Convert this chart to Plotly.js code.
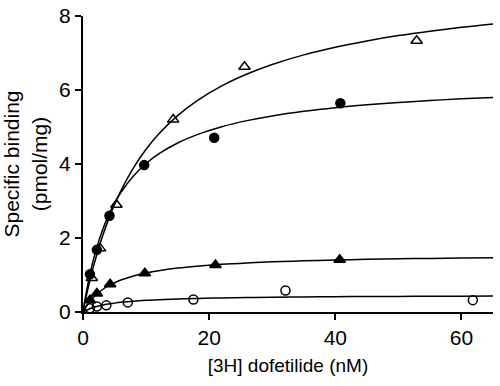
<!DOCTYPE html>
<html>
<head>
<meta charset="utf-8">
<script src="https://cdn.plot.ly/plotly-3.0.1.min.js"></script>
<style>html,body{margin:0;padding:0;background:#fff;}#chart{width:500px;height:386px;}</style>
</head>
<body>
<div id="chart"></div>
<script>
// Measured points
const openTriX = [1.4, 2.7, 5.3, 14.3, 25.6, 52.9];
const openTriY = [0.92, 1.72, 2.9, 5.2, 6.63, 7.33];
const fillCircX = [1.1, 2.2, 4.2, 9.7, 20.8, 40.8];
const fillCircY = [1.02, 1.68, 2.6, 3.97, 4.71, 5.64];
const fillTriX = [1.1, 2.2, 4.3, 9.8, 21, 40.7];
const fillTriY = [0.32, 0.5, 0.75, 1.05, 1.27, 1.41];
const openCircX = [1.1, 2.2, 3.7, 7.1, 17.5, 32.1, 61.8];
const openCircY = [0.1, 0.15, 0.18, 0.26, 0.34, 0.58, 0.32];

// Fitted curves
const curveX = [0, 0.5, 1, 1.5, 2, 3, 4, 5, 6, 8, 10, 12, 15, 18, 22, 26, 30, 35, 40, 45, 50, 55, 60, 65];
const openTriCurve = [0, 0.408, 0.781, 1.124, 1.439, 1.999, 2.483, 2.904, 3.275, 3.897, 4.397, 4.810, 5.307, 5.700, 6.111, 6.432, 6.690, 6.949, 7.157, 7.327, 7.470, 7.590, 7.693, 7.783];
const fillCircCurve = [0, 0.507, 0.939, 1.311, 1.635, 2.171, 2.597, 2.943, 3.230, 3.679, 4.014, 4.273, 4.568, 4.788, 5.008, 5.172, 5.300, 5.424, 5.521, 5.598, 5.662, 5.716, 5.761, 5.800];
const fillTriCurve = [0, 0.144, 0.265, 0.366, 0.453, 0.595, 0.705, 0.792, 0.864, 0.975, 1.055, 1.117, 1.187, 1.238, 1.289, 1.326, 1.355, 1.384, 1.405, 1.423, 1.437, 1.449, 1.459, 1.468];
const openCircCurve = [0, 0.045, 0.083, 0.114, 0.140, 0.182, 0.215, 0.240, 0.261, 0.293, 0.316, 0.333, 0.353, 0.367, 0.381, 0.391, 0.399, 0.407, 0.413, 0.418, 0.421, 0.425, 0.427, 0.430];

const xTicks = [0, 20, 40, 60];
const yTicks = [0, 2, 4, 6, 8];

const lineStyle = {color: '#000', width: 1.5, shape: 'spline'};
function curve(y) {
  return {x: curveX, y: y, mode: 'lines', line: lineStyle, hoverinfo: 'skip', cliponaxis: false};
}
function pts(x, y, sym, size) {
  return {x: x, y: y, mode: 'markers', cliponaxis: false,
    marker: {symbol: sym, size: size, color: '#000', line: {color: '#000', width: 1.5}}};
}

const data = [
  curve(openTriCurve), curve(fillCircCurve), curve(fillTriCurve), curve(openCircCurve),
  pts(openTriX, openTriY, 'triangle-up-open', 10),
  pts(fillCircX, fillCircY, 'circle', 9),
  pts(fillTriX, fillTriY, 'triangle-up', 10),
  pts(openCircX, openCircY, 'circle-open', 9)
];

const axisCommon = {
  showline: true, linecolor: '#000', linewidth: 2,
  ticks: 'outside', ticklen: 6, tickwidth: 2, tickcolor: '#000',
  showgrid: false, zeroline: false,
  tickfont: {family: 'Liberation Sans, Arial, sans-serif', size: 21, color: '#000'}
};

const layout = {
  width: 500, height: 386,
  margin: {l: 83, r: 7, t: 16, b: 74},
  paper_bgcolor: '#fff', plot_bgcolor: '#fff',
  showlegend: false,
  font: {family: 'Liberation Sans, Arial, sans-serif', color: '#000'},
  xaxis: Object.assign({}, axisCommon, {
    range: [0, 65], tickvals: xTicks, ticktext: xTicks.map(String),
    title: {text: '[3H] dofetilide (nM)', font: {size: 19, color: '#000'}, standoff: 10}
  }),
  yaxis: Object.assign({}, axisCommon, {
    range: [0, 8], tickvals: yTicks, ticktext: yTicks.map(String),
    title: {text: 'Specific binding<br>(pmol/mg)', font: {size: 21, color: '#000'}, standoff: 6}
  })
};

Plotly.newPlot('chart', data, layout, {displayModeBar: false, staticPlot: true});
</script>
</body>
</html>
